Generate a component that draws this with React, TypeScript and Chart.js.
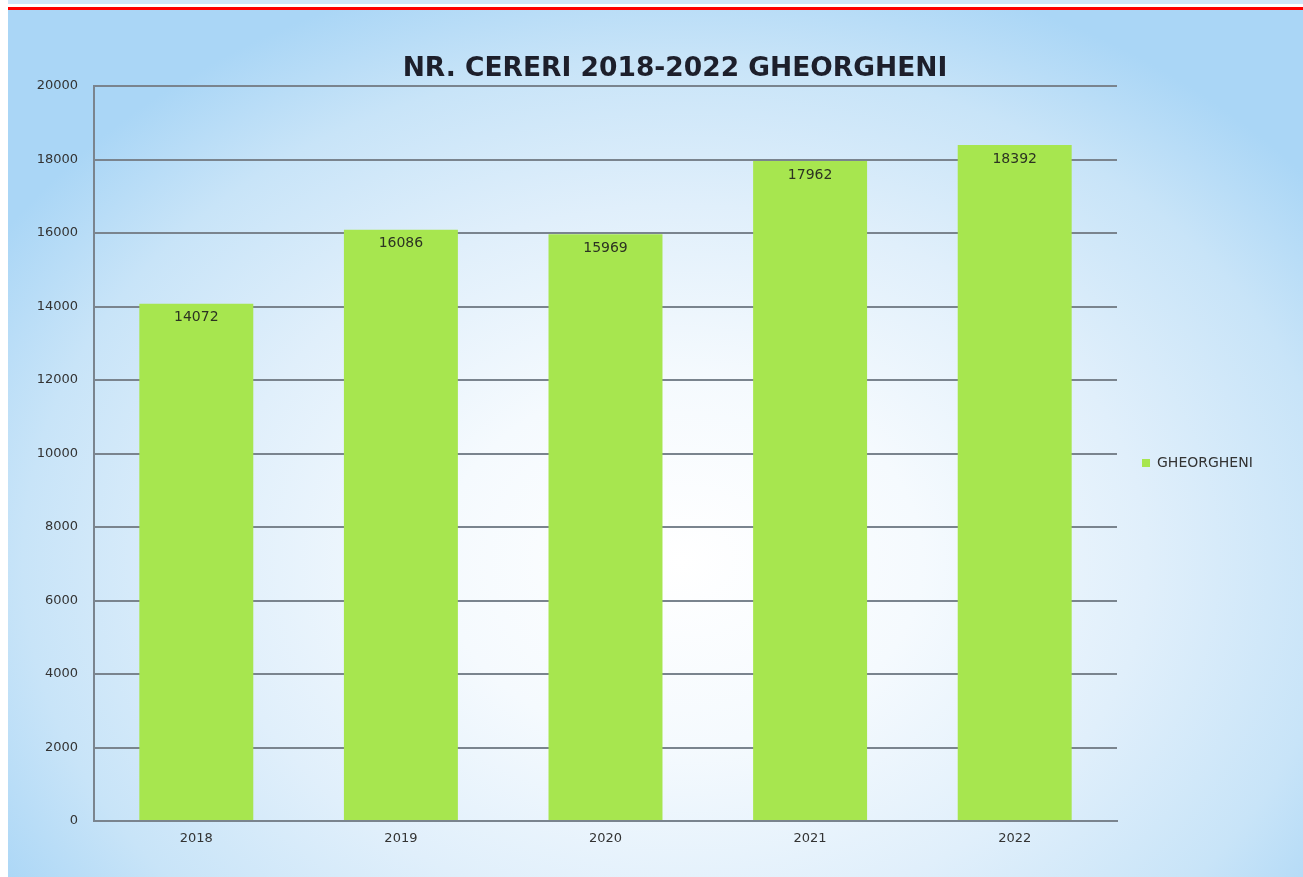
import React, { useEffect, useRef } from "react";
import { Chart, registerables } from "chart.js";

Chart.register(...registerables);

const categories = ["2018", "2019", "2020", "2021", "2022"];
const values = [14072, 16086, 15969, 17962, 18392];
const seriesName = "GHEORGHENI";
const chartTitle = "NR. CERERI 2018-2022 GHEORGHENI";
const yMin = 0;
const yMax = 20000;
const yStep = 2000;

const GRID = "#7a848e";
const BAR = "#a7e64f";

export default function App() {
  const ref = useRef<HTMLCanvasElement | null>(null);

  useEffect(() => {
    if (!ref.current) return;

    const legendFit = {
      id: "legendFit",
      afterInit(chart: any) {
        const lg = chart.legend;
        if (!lg) return;
        const orig = lg.fit.bind(lg);
        lg.fit = function () {
          orig();
          this.width = 203;
        };
      },
    };

    const dataLabels = {
      id: "dataLabels",
      afterDatasetsDraw(chart: any) {
        const ctx = chart.ctx;
        chart.data.datasets.forEach((ds: any, di: number) => {
          const meta = chart.getDatasetMeta(di);
          meta.data.forEach((el: any, i: number) => {
            ctx.save();
            ctx.font = "14px 'DejaVu Sans'";
            ctx.fillStyle = "#2c3322";
            ctx.textAlign = "center";
            ctx.textBaseline = "middle";
            ctx.fillText(String(ds.data[i]), el.x, el.y + 14);
            ctx.restore();
          });
        });
      },
    };

    const chart = new Chart(ref.current, {
      type: "bar",
      data: {
        labels: categories,
        datasets: [
          {
            label: seriesName,
            data: values,
            backgroundColor: BAR,
            borderWidth: 0,
            barPercentage: 0.557,
            categoryPercentage: 1.0,
          },
        ],
      },
      options: {
        animation: false,
        responsive: false,
        devicePixelRatio: 1,
        layout: { padding: { left: 30, right: -17, top: 50, bottom: 1 } },
        scales: {
          x: {
            grid: { display: false, drawTicks: false },
            border: { display: true, color: GRID, width: 2 },
            ticks: {
              color: "#333",
              font: { family: "'DejaVu Sans'", size: 13 },
              padding: 10,
            },
            afterFit(scale: any) {
              scale.height = 55;
            },
          },
          y: {
            min: yMin,
            max: yMax,
            ticks: {
              stepSize: yStep,
              color: "#333",
              font: { family: "'DejaVu Sans'", size: 13 },
              padding: 16,
              callback: (v: any) => String(v),
            },
            grid: { color: GRID, lineWidth: 2, drawTicks: false },
            border: { display: true, color: GRID, width: 2 },
            afterFit(scale: any) {
              scale.width = 64;
            },
          },
        },
        plugins: {
          title: {
            display: true,
            text: chartTitle,
            color: "#1d1f2b",
            font: { family: "'DejaVu Sans'", size: 26.5, weight: "bold", lineHeight: 1.2 },
            padding: { top: 3, bottom: 1.2 },
          },
          legend: {
            position: "right",
            labels: {
              boxWidth: 8,
              boxHeight: 8,
              padding: 25,
              color: "#333",
              font: { family: "'DejaVu Sans'", size: 14 },
            },
          },
          tooltip: { enabled: false },
        },
      },
      plugins: [legendFit, dataLabels],
    } as any);

    return () => chart.destroy();
  }, []);

  return (
    <div
      style={{
        position: "absolute",
        left: 0,
        top: 0,
        width: 1303,
        height: 877,
        background: "#ffffff",
        overflow: "hidden",
      }}
    >
      <div
        style={{
          position: "absolute",
          left: 8,
          top: 0,
          width: 1295,
          height: 877,
          background:
            "radial-gradient(ellipse 62% 70% at 52% 64%, #ffffff 0%, #f5fafe 30%, #e0effb 58%, #c8e4f8 82%, #aad6f6 100%)",
        }}
      />
      <div
        style={{
          position: "absolute",
          left: 8,
          top: 0,
          width: 1295,
          height: 4,
          background: "#cfe6f8",
        }}
      />
      <div
        style={{
          position: "absolute",
          left: 8,
          top: 4,
          width: 1295,
          height: 3,
          background: "#ffffff",
        }}
      />
      <div
        style={{
          position: "absolute",
          left: 8,
          top: 7,
          width: 1295,
          height: 3,
          background: "#ff0000",
        }}
      />
      <canvas
        ref={ref}
        width={1303}
        height={877}
        style={{ position: "absolute", left: 0, top: 0, width: 1303, height: 877 }}
      />
    </div>
  );
}
